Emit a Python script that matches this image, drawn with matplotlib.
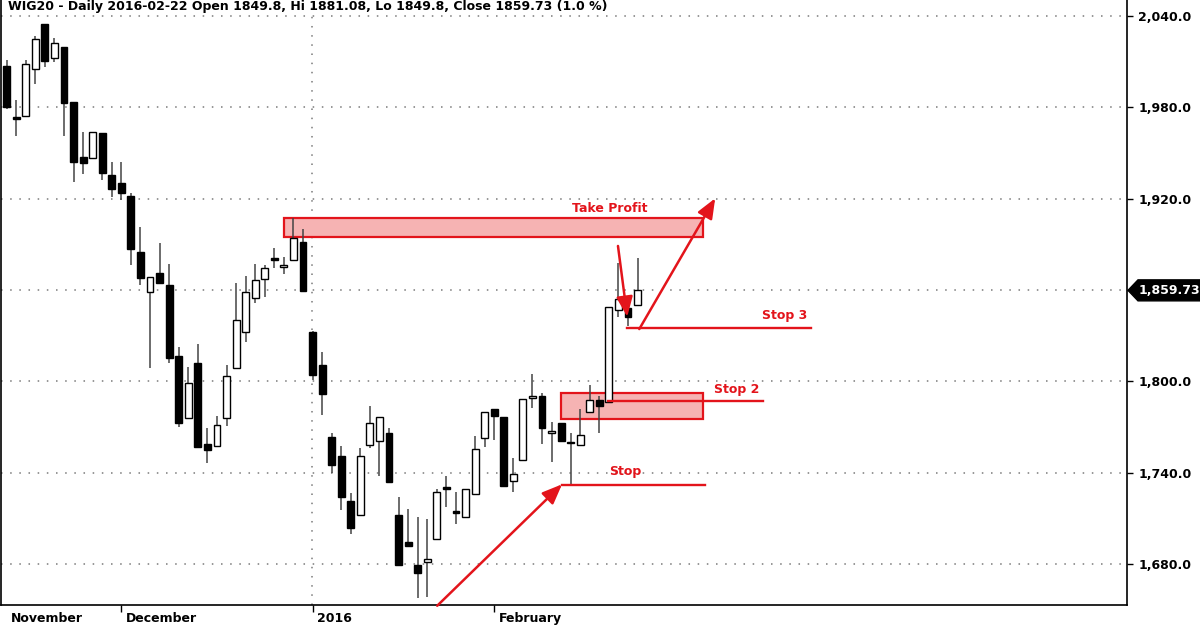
import matplotlib
matplotlib.use("Agg")
import matplotlib.pyplot as plt
from matplotlib.patches import Rectangle, Polygon
from matplotlib.transforms import blended_transform_factory

# ---------------- data ----------------
dates = [
    "2015-11-13", "2015-11-16", "2015-11-17", "2015-11-18", "2015-11-19", "2015-11-20",
    "2015-11-23", "2015-11-24", "2015-11-25", "2015-11-26", "2015-11-27", "2015-11-30",
    "2015-12-01", "2015-12-02", "2015-12-03", "2015-12-04", "2015-12-07", "2015-12-08",
    "2015-12-09", "2015-12-10", "2015-12-11", "2015-12-14", "2015-12-15", "2015-12-16",
    "2015-12-17", "2015-12-18", "2015-12-21", "2015-12-22", "2015-12-23", "2015-12-28",
    "2015-12-29", "2015-12-30",
    "2016-01-04", "2016-01-05", "2016-01-07", "2016-01-08", "2016-01-11", "2016-01-12",
    "2016-01-13", "2016-01-14", "2016-01-15", "2016-01-18", "2016-01-19", "2016-01-20",
    "2016-01-21", "2016-01-22", "2016-01-25", "2016-01-26", "2016-01-27", "2016-01-28",
    "2016-01-29",
    "2016-02-01", "2016-02-02", "2016-02-03", "2016-02-04", "2016-02-05", "2016-02-08",
    "2016-02-09", "2016-02-10", "2016-02-11", "2016-02-12", "2016-02-15", "2016-02-16",
    "2016-02-17", "2016-02-18", "2016-02-19", "2016-02-22",
]

opens = [2007, 1973.5, 1974, 2005, 2035, 2012.5, 2019.5, 1983.5, 1947.5, 1946.5, 1963, 1935.5,
         1930.5, 1921.5, 1885, 1858.5, 1871, 1863.5, 1816.5, 1776, 1812, 1759, 1757.5, 1776,
         1808.5, 1832.5, 1854.5, 1867, 1880.5, 1875, 1879.5, 1891.5,
         1832.5, 1811, 1763.5, 1751, 1721.5, 1712, 1758, 1760.5, 1766, 1712, 1694.5, 1679.5,
         1681.5, 1696.5, 1730.5, 1714.5, 1710.5, 1726, 1763,
         1781.5, 1776.5, 1734.5, 1748.5, 1789, 1790.5, 1766, 1772.5, 1760, 1758, 1780,
         1787.5, 1786.5, 1847, 1848, 1849.8]
highs = [2011, 1985, 2011, 2027, 2035, 2025.5, 2019.5, 1983.5, 1964, 1964, 1963, 1944,
         1944, 1923.5, 1901.5, 1868.5, 1891, 1877, 1822.5, 1809.5, 1824.5, 1769.5, 1777, 1810.5,
         1864.5, 1869, 1877, 1876.5, 1887.5, 1881.5, 1907.5, 1900,
         1833, 1819.5, 1766, 1757.5, 1726.5, 1756, 1784, 1776.5, 1769.5, 1724, 1716, 1711,
         1709.5, 1729.5, 1737.5, 1727, 1729, 1764, 1780,
         1781.5, 1776.5, 1749.5, 1788.5, 1805, 1792, 1773.5, 1772.5, 1766, 1781.5, 1797.5,
         1790, 1848.5, 1878, 1848, 1881.08]
lows = [1979, 1961, 1974, 1995, 2006.5, 2010, 1961, 1931, 1936, 1946, 1932, 1921,
        1919, 1876.5, 1863.5, 1808.5, 1864.5, 1812, 1770, 1776, 1756, 1746.5, 1757.5, 1770.5,
        1808.5, 1826, 1851.5, 1855.5, 1874.5, 1870.5, 1879.5, 1859.5,
        1801, 1778, 1740, 1715.5, 1699.5, 1712, 1756, 1737.5, 1734, 1679, 1692, 1657.5,
        1658, 1696.5, 1717.5, 1706, 1710.5, 1726, 1757,
        1761.5, 1731.5, 1727, 1748.5, 1782.5, 1759, 1747, 1761, 1732, 1758, 1780,
        1766, 1786.5, 1842.5, 1836, 1849.8]
closes = [1980, 1972.5, 2008.5, 2025, 2010.5, 2022, 1983, 1944, 1943.5, 1963.5, 1937, 1926.5,
          1923.5, 1887, 1868, 1868.5, 1864.5, 1815.5, 1772.5, 1799, 1757, 1755, 1771.5, 1803.5,
          1840.5, 1858.5, 1866.5, 1874.5, 1880, 1876.5, 1894, 1859.5,
          1804, 1791.5, 1745, 1724, 1703.5, 1751, 1772.5, 1776.5, 1734, 1679, 1692, 1674,
          1683, 1727, 1729.5, 1713.5, 1729, 1755.5, 1780,
          1777, 1731.5, 1739, 1788.5, 1790.5, 1769.5, 1767.5, 1761, 1759.5, 1765, 1788,
          1783.5, 1848.5, 1854, 1842, 1859.73]

month_labels = ["November", "December", "2016", "February"]
month_starts = ["2015-11-01", "2015-12-01", "2016-01-01", "2016-02-01"]
price_ticks = [1680, 1740, 1800, 1860, 1920, 1980, 2040]
title_text = "WIG20 - Daily 2016-02-22 Open 1849.8, Hi 1881.08, Lo 1849.8, Close 1859.73 (1.0 %)"
last_price = closes[-1]

# ---------------- figure ----------------
RED = "#e3141b"
FILL = "#f6b3b3"
FONT = "DejaVu Sans"

fig = plt.figure(figsize=(12, 6.3), dpi=100)
ax = fig.add_axes([0.0008, 1 - 605 / 630, 1127 / 1200 - 0.0008, 605 / 630])

n = len(dates)
xs = list(range(n))
ax.set_xlim(-0.596, 117.2)
ax.set_ylim(1653.0, 2050.5)

# grid
ax.set_yticks(price_ticks)
ax.grid(axis="y", linestyle=(0, (1, 5)), color="#7a7a7a", lw=1.1)
ax.grid(axis="x", visible=False)

# zones (drawn below the candles)
ax.add_patch(Rectangle((28.98, 1894.8), 72.86 - 28.98, 1907.1 - 1894.8,
                       facecolor=FILL, edgecolor=RED, lw=1.6, zorder=1.5))
ax.add_patch(Rectangle((58.03, 1775.0), 72.86 - 58.03, 1792.5 - 1775.0,
                       facecolor=FILL, edgecolor=RED, lw=1.6, zorder=1.5))

# candles
width = 0.72
for i in xs:
    o, h, l, c = opens[i], highs[i], lows[i], closes[i]
    ax.vlines(i, l, h, color="#444444", lw=1.1, zorder=2)
    bottom = min(o, c)
    height = max(abs(c - o), 0.9)
    fc = "white" if c > o else "black"
    ax.add_patch(Rectangle((i - width / 2, bottom), width, height,
                           facecolor=fc, edgecolor="black", lw=1.0, zorder=3))

# x month ticks
month_idx = []
for ms in month_starts:
    idx = next((k for k, d in enumerate(dates) if d >= ms), 0)
    month_idx.append(idx if dates[idx][:7] == ms[:7] and idx > 0 else -0.05)
ax.set_xticks([m for m in month_idx if m > 0])
ax.tick_params(axis="x", direction="out", length=5, width=1, labelbottom=False, color="black")
trans_x = blended_transform_factory(ax.transData, ax.transAxes)
for lab, m in zip(month_labels, month_idx):
    ax.text(m + 0.5, -0.022, lab, transform=trans_x, ha="left", va="center",
            fontsize=9, fontweight="bold", family=FONT, color="black", clip_on=False)

# year boundary vertical dotted line
ax.axvline(month_idx[2] - 0.05, linestyle=(0, (1, 5)), color="#7a7a7a", lw=1.1, zorder=1)

# y axis on the right (the level of the last price tag carries no label)
ax.yaxis.tick_right()
ax.set_yticklabels(["" if abs(v - last_price) < 5 else f"{v:,.1f}" for v in price_ticks],
                   fontsize=9, fontweight="bold", family=FONT)
ax.tick_params(axis="y", direction="out", length=4, width=1, pad=4, color="black")
ax.spines["top"].set_visible(False)
for s in ["left", "bottom", "right"]:
    ax.spines[s].set_color("black")
    ax.spines[s].set_linewidth(1.2)

# ---------------- annotations ----------------
ax.plot([58.1, 73.07], [1731.8, 1731.8], color=RED, lw=1.7, zorder=5)
ax.plot([62.94, 79.13], [1787.0, 1787.0], color=RED, lw=1.7, zorder=5)
ax.plot([64.92, 84.12], [1835.2, 1835.2], color=RED, lw=1.7, zorder=5)

tkw = dict(color=RED, fontsize=9, fontweight="bold", family=FONT, ha="center", va="center", zorder=6)
ax.text(63.04, 1913.2, "Take Profit", **tkw)
ax.text(81.43, 1843.5, "Stop 3", **tkw)
ax.text(76.42, 1794.3, "Stop 2", **tkw)
ax.text(64.71, 1740.6, "Stop", **tkw)

akw = dict(arrowstyle="-|>,head_length=1.1,head_width=0.45", color=RED, lw=1.8,
           shrinkA=0, shrinkB=0, mutation_scale=11)
ax.annotate("", xy=(58.1, 1732.3), xytext=(45.04, 1652.5), arrowprops=akw, zorder=6,
            annotation_clip=False)
ax.annotate("", xy=(74.12, 1920.2), xytext=(66.18, 1834.3), arrowprops=akw, zorder=6)
ax.annotate("", xy=(64.92, 1842.4), xytext=(63.95, 1888.9), arrowprops=akw, zorder=6)

# last price tag on the right axis
tag_tr = blended_transform_factory(fig.transFigure, ax.transData)
hh = 10.5 / 1.522
x0, x1, x2 = 1128 / 1200, 1138 / 1200, 1.0
tag = Polygon([(x0, last_price), (x1, last_price + hh), (x2, last_price + hh),
               (x2, last_price - hh), (x1, last_price - hh)], closed=True,
              facecolor="black", edgecolor="black", transform=tag_tr, clip_on=False, zorder=10)
fig.add_artist(tag)
fig.text(1169 / 1200, last_price, f"{last_price:,.2f}", transform=tag_tr, ha="center",
         va="center", color="white", fontsize=9, fontweight="bold", family=FONT, zorder=11)

# title at the very top of the chart
fig.text(8 / 1200, 1 - 10 / 630, title_text, ha="left", va="baseline", fontsize=9,
         fontweight="bold", family=FONT, color="black")

fig.savefig("out.png", dpi=100)
